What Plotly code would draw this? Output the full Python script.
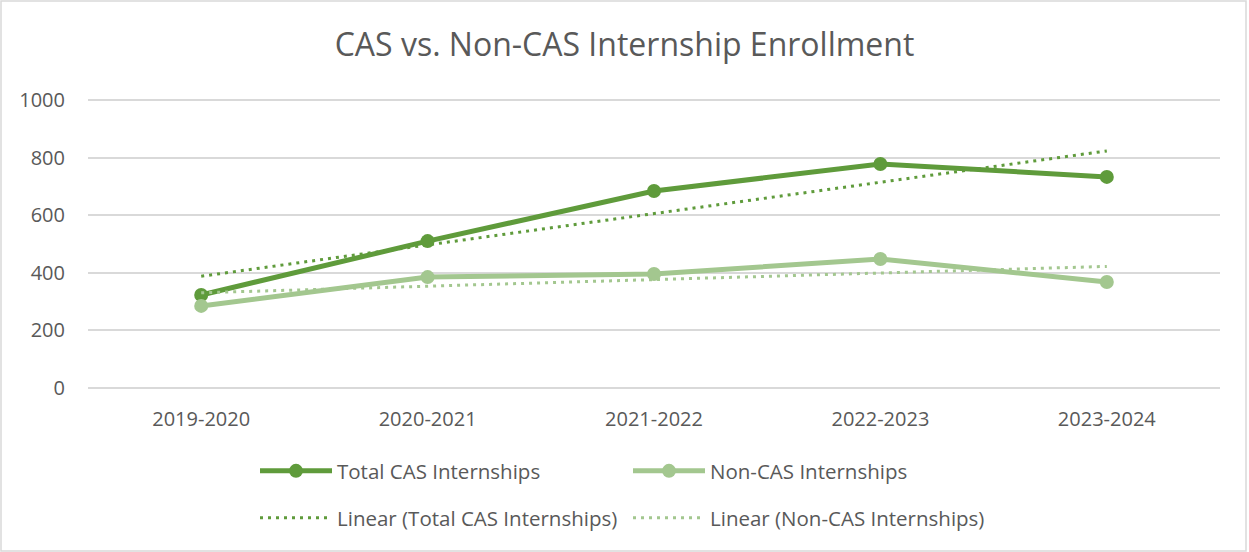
import numpy as np
import plotly.graph_objects as go

years = ["2019-2020", "2020-2021", "2021-2022", "2022-2023", "2023-2024"]
total_cas = [323, 510, 684, 778, 733]
non_cas = [285, 385, 396, 448, 368]
y_ticks = [0, 200, 400, 600, 800, 1000]

dark = "#5F9B3B"
light = "#A3C78F"
txt = "#595959"

idx = np.arange(len(years))
def trend(vals):
    m, b = np.polyfit(idx + 1, vals, 1)
    return list(m * (idx + 1) + b)

fig = go.Figure()
fig.add_trace(go.Scatter(x=years, y=total_cas, name="Total CAS Internships",
                         mode="lines+markers", line=dict(color=dark, width=5),
                         marker=dict(size=14, color=dark), legend="legend"))
fig.add_trace(go.Scatter(x=years, y=non_cas, name="Non-CAS Internships",
                         mode="lines+markers", line=dict(color=light, width=5),
                         marker=dict(size=14, color=light), legend="legend"))
fig.add_trace(go.Scatter(x=years, y=trend(total_cas), name="Linear (Total CAS Internships)",
                         mode="lines", line=dict(color=dark, width=3, dash="3px,5px"),
                         legend="legend2"))
fig.add_trace(go.Scatter(x=years, y=trend(non_cas), name="Linear (Non-CAS Internships)",
                         mode="lines", line=dict(color=light, width=3, dash="3px,5px"),
                         legend="legend2"))

L, R, T, B = 88, 1249 - 1220, 99, 163
pw = 1249 - L - R
ph = 552 - T - B
y0 = 552 - 388  # pixel row of value 0 measured from bottom

leg = dict(orientation="h", xanchor="left", yanchor="middle",
           font=dict(family="Open Sans", size=20.5, color=txt),
           entrywidth=286, entrywidthmode="pixels", itemwidth=72,
           bgcolor="rgba(0,0,0,0)")

fig.update_layout(
    width=1249, height=552,
    margin=dict(l=L, r=R, t=T, b=B),
    paper_bgcolor="white", plot_bgcolor="white",
    title=dict(text="CAS vs. Non-CAS Internship Enrollment", x=0.5, xref="container",
               xanchor="center", y=1 - 45 / 552, yanchor="middle",
               font=dict(family="Open Sans", size=32, color=txt)),
    xaxis=dict(range=[-0.5, 4.5], showgrid=False, showline=False, zeroline=False,
               ticks="", tickfont=dict(family="Open Sans", size=20, color=txt),
               ticklabelstandoff=16, fixedrange=True),
    yaxis=dict(range=[-3.5, 1003.5], tickvals=y_ticks, showgrid=True, gridcolor="#D9D9D9",
               gridwidth=1.5, zeroline=False, showline=False, ticks="", ticklen=0,
               ticklabelstandoff=22, fixedrange=True,
               tickfont=dict(family="Open Sans", size=20, color=txt)),
    legend=dict(leg, x=(255 - L) / pw, y=-(470 - 388) / ph),
    legend2=dict(leg, x=(255 - L) / pw, y=-(517 - 388) / ph),
    showlegend=True,
    shapes=[dict(type="rect", xref="paper", yref="paper",
                 x0=-(L - 1) / pw, x1=1 + (R - 3) / pw,
                 y0=-(B - 1) / ph, y1=1 + (T - 1) / ph,
                 line=dict(color="#D9D9D9", width=1.5), fillcolor="rgba(0,0,0,0)",
                 layer="below")],
)

fig.write_html("out.html", config={"displayModeBar": False},
               post_script="document.body.style.margin='0';")
